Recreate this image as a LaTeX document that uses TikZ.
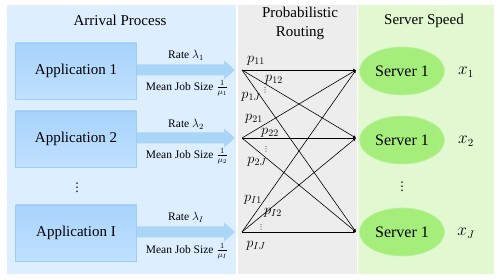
\documentclass[tikz,border=0pt]{standalone}
\usepackage{fontspec}
\setmainfont{Liberation Serif}
\newfontfamily\dejavu{DejaVu Sans}
\usetikzlibrary{arrows.meta,shapes.geometric}
\definecolor{panelblue}{HTML}{DDEEFE}
\definecolor{panelgray}{HTML}{EDEDED}
\definecolor{panelgreen}{HTML}{E1F8D1}
\definecolor{appedge}{HTML}{9CCDF8}
\definecolor{apptop}{HTML}{A8D3FC}
\definecolor{appbot}{HTML}{C0E1FF}
\definecolor{arrowfill}{HTML}{A9D5F7}
\definecolor{srvfill}{HTML}{A6EE7C}
\definecolor{srvedge}{HTML}{B9F29C}
\begin{document}
\begin{tikzpicture}[x=1pt,y=-1pt,
  appbox/.style={draw=appedge,line width=0.6pt,top color=apptop,bottom color=appbot,minimum width=121pt,minimum height=56pt,font=\fontsize{15}{16}\selectfont,inner sep=0pt},
  srv/.style={ellipse,draw=srvedge,line width=0.6pt,fill=srvfill,minimum width=85pt,minimum height=48pt,font=\fontsize{16}{16}\selectfont,inner sep=0pt},
  title/.style={font=\fontsize{15}{19}\selectfont,align=center,inner sep=0pt},
  small/.style={font=\fontsize{11.5}{13}\selectfont,inner sep=0pt},
  plab/.style={font=\fontsize{14}{14}\selectfont,inner sep=0pt},
  dots/.style={font=\dejavu\fontsize{7}{7}\selectfont,inner sep=0pt},
  bigdots/.style={font=\dejavu\fontsize{12}{12}\selectfont,inner sep=0pt},
  xlab/.style={font=\fontsize{16}{18}\selectfont,inner sep=0pt},
  route/.style={line width=0.6pt,-{Latex[length=3pt,width=3pt]}},
  flow/.style={fill=arrowfill,draw=none}
]
\useasboundingbox (0,0) rectangle (498,280);
\fill[white] (0,0) rectangle (498,280);
% panels
\fill[panelblue] (7,5) rectangle (236,274);
\fill[panelgray] (238,5) rectangle (357,274);
\fill[panelgreen] (358,5) rectangle (494,274);
% titles
\node[title] (t1) at (120,20) {Arrival Process};
\node[title] (t2) at (300,23) {Probabilistic\\Routing};
\node[title] (t3) at (424,21) {Server Speed};
% applications
\node[appbox] (a1) at (76,71) {Application 1};
\node[appbox] (a2) at (76,139) {Application 2};
\node[appbox] (aI) at (76,233) {Application I};
\node[bigdots] (adots) at (77,188) {⋮};
% flow arrows
\foreach \y in {70,138,232}{
  \fill[flow] (137,\y-5.5) -- (224,\y-5.5) -- (224,\y-9.5) -- (235,\y) -- (224,\y+9.5) -- (224,\y+5.5) -- (137,\y+5.5) -- cycle;
}
\node[small] (r1) at (186,55) {Rate $\lambda_1$};
\node[small] (m1) at (187,88) {Mean Job Size $\frac{1}{\mu_1}$};
\node[small] (r2) at (186,124) {Rate $\lambda_2$};
\node[small] (m2) at (187,156) {Mean Job Size $\frac{1}{\mu_2}$};
\node[small] (rI) at (186,217) {Rate $\lambda_I$};
\node[small] (mI) at (187,251) {Mean Job Size $\frac{1}{\mu_I}$};
% routing points
\coordinate (L1) at (242,70);
\coordinate (L2) at (242,138);
\coordinate (L3) at (242,232);
\coordinate (R1) at (356,70);
\coordinate (R2) at (356,138);
\coordinate (R3) at (356,232);
\foreach \i in {1,2,3}{
  \foreach \j in {1,2,3}{
    \draw[route] (L\i) -- (R\j);
  }
}
% routing labels
\node[plab] (p11) at (256,61) {$p_{11}$};
\node[plab] (p12) at (274,80) {$p_{12}$};
\node[dots] (d1) at (265,90) {⋮};
\node[plab] (p1J) at (251,97) {$p_{1J}$};
\node[plab] (p21) at (254,119) {$p_{21}$};
\node[plab] (p22) at (270,133) {$p_{22}$};
\node[dots] (d2) at (266,149) {⋮};
\node[plab] (p2J) at (257,162) {$p_{2J}$};
\node[plab] (pI1) at (253,200) {$p_{I1}$};
\node[plab] (pI2) at (273,213) {$p_{I2}$};
\node[dots] (d3) at (261,227) {⋮};
\node[plab] (pIJ) at (256,246) {$p_{IJ}$};
% servers
\node[srv] (s1) at (402,71) {Server 1};
\node[srv] (s2) at (402,140) {Server 1};
\node[srv] (s3) at (402,232) {Server 1};
\node[bigdots] (sdots) at (402,187) {⋮};
\node[xlab] (x1) at (466,72) {$x_1$};
\node[xlab] (x2) at (466,141) {$x_2$};
\node[xlab] (xJ) at (466,233) {$x_J$};
\end{tikzpicture}
\end{document}
